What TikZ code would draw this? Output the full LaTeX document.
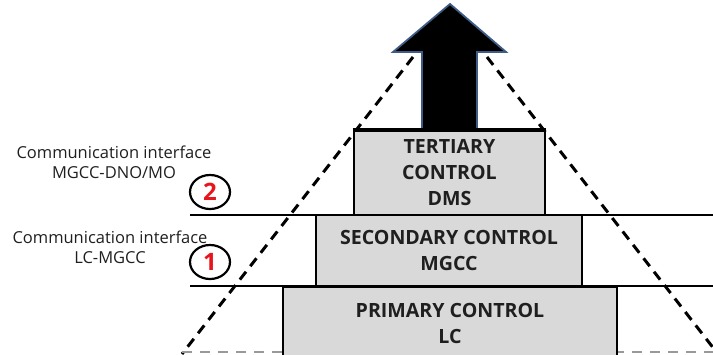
\documentclass[tikz,border=0pt]{standalone}
\usepackage{fontspec}
\setmainfont{Open Sans}
\usetikzlibrary{shapes.geometric}
\definecolor{boxgrey}{HTML}{D9D9D9}
\definecolor{arrowedge}{HTML}{3E5C85}
\definecolor{numred}{HTML}{E8141B}
\tikzset{
  ctrlbox/.style={draw=black, line width=2.8pt, fill=boxgrey, inner sep=0pt, align=center,
    font=\fontsize{19.6}{26}\selectfont\bfseries, text=black!88},
  levelline/.style={line width=2.8pt, black},
  pyrdash/.style={line width=3pt, black, dash pattern=on 10pt off 7pt},
  basedash/.style={line width=1.6pt, black!40, dash pattern=on 10pt off 8pt},
  iflabel/.style={align=center, font=\fontsize{16.5}{20}\selectfont, text=black!88},
  numcirc/.style={ellipse, draw=black, line width=2.2pt, minimum width=40pt, minimum height=34pt, inner sep=0pt,
    font=\fontsize{24}{24}\selectfont\bfseries, text=numred},
}
\begin{document}
\begin{tikzpicture}[x=1pt,y=-1pt]
\useasboundingbox (0,0) rectangle (713,354);
\clip (0,0) rectangle (713,354);
% pyramid sides (behind everything)
\coordinate (apexL) at (413,57);
\coordinate (baseL) at (182,354);
\coordinate (apexR) at (487,57);
\coordinate (baseR) at (718,354);
\draw[pyrdash] (apexL) -- (baseL);
\draw[pyrdash] (apexR) -- (baseR);
\coordinate (bs) at (182,352);
\coordinate (be) at (713,352);
\draw[basedash] (bs) -- (be);
% interface lines
\coordinate (l2s) at (190,215);
\coordinate (l2e) at (713,215);
\coordinate (l1s) at (190,286);
\coordinate (l1e) at (713,286);
\draw[levelline] (l2s) -- (l2e);
\draw[levelline] (l1s) -- (l1e);
% boxes
\node[ctrlbox, minimum width=334pt, minimum height=72pt] (prim) at (450,323) {PRIMARY CONTROL\\LC};
\node[ctrlbox, minimum width=266pt, minimum height=71pt] (sec) at (449,250.5) {SECONDARY CONTROL\\MGCC};
\node[ctrlbox, minimum width=191pt, minimum height=84pt] (ter) at (449.5,173) {TERTIARY\\CONTROL\\DMS};
% arrow
\fill[black, draw=arrowedge, line width=1.8pt, line join=miter]
  (422,130) -- (422,52) -- (393,52) -- (450,4) -- (506,52) -- (477,52) -- (477,130) -- cycle;
\draw[line width=2.8pt] (ter.north west) -- (ter.north east);
% labels
\node[iflabel] (lab2) at (114,162) {Communication interface\\MGCC-DNO/MO};
\node[iflabel] (lab1) at (110,247) {Communication interface\\LC-MGCC};
\node[numcirc] (c2) at (210,192) {2};
\node[numcirc] (c1) at (210,262) {1};
\end{tikzpicture}
\end{document}
